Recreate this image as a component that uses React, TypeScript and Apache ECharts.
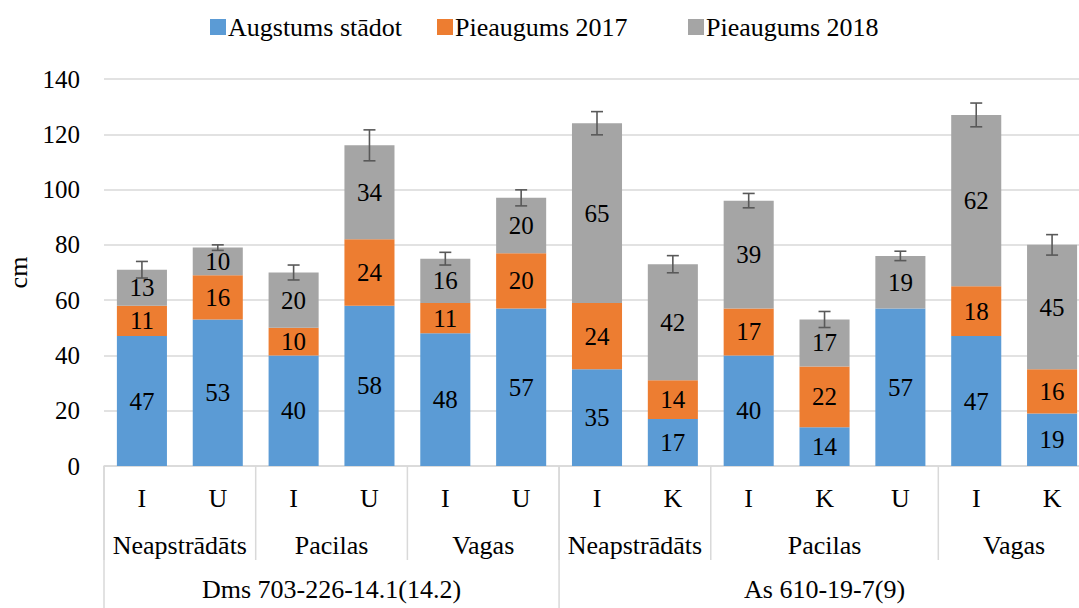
import React, { useEffect, useRef } from "react";
import * as echarts from "echarts";

const categories = ["I", "U", "I", "U", "I", "U", "I", "K", "I", "K", "U", "I", "K"];
const augstumsStadot = [47, 53, 40, 58, 48, 57, 35, 17, 40, 14, 57, 47, 19];
const pieaugums2017: (number | null)[] = [11, 16, 10, 24, 11, 20, 24, 14, 17, 22, null, 18, 16];
const pieaugums2018 = [13, 10, 20, 34, 16, 20, 65, 42, 39, 17, 19, 62, 45];
const errorValues = [3, 1, 2.7, 5.6, 2.3, 2.9, 4.2, 3.1, 2.6, 2.9, 1.7, 4.3, 3.7];
const level2Groups = [
  { name: "Neapstrādāts", start: 0, end: 1 },
  { name: "Pacilas", start: 2, end: 3 },
  { name: "Vagas", start: 4, end: 5 },
  { name: "Neapstrādāts", start: 6, end: 7 },
  { name: "Pacilas", start: 8, end: 10 },
  { name: "Vagas", start: 11, end: 12 },
];
const level3Groups = [
  { name: "Dms 703-226-14.1(14.2)", start: 0, end: 5 },
  { name: "As 610-19-7(9)", start: 6, end: 12 },
];
const seriesNames = ["Augstums stādot", "Pieaugums 2017", "Pieaugums 2018"];
const yTicks = { min: 0, max: 140, interval: 20 };

const FONT = "Liberation Serif";
const FS = 25;
const FS_TEXT = 26;
const COLORS = ["#5b9bd5", "#ed7d31", "#a5a5a5"];
const LEGEND_LEFT = [205, 432, 683];

export default function App() {
  const ref = useRef<HTMLDivElement>(null);
  useEffect(() => {
    if (!ref.current) return;
    const chart = echarts.init(ref.current, undefined, { renderer: "svg" });
    const totals = categories.map(
      (_, i) => augstumsStadot[i] + (pieaugums2017[i] ?? 0) + pieaugums2018[i]
    );
    const labelStyle = {
      show: true,
      position: "inside" as const,
      color: "#000",
      fontFamily: FONT,
      fontSize: FS,
      formatter: (p: any) => (p.value == null ? "" : String(p.value)),
    };
    const groupItems = [
      ...level2Groups.map((g) => ({ ...g, level: 2 })),
      ...level3Groups.map((g) => ({ ...g, level: 3 })),
    ];
    const seriesData = [augstumsStadot, pieaugums2017, pieaugums2018];
    chart.setOption({
      animation: false,
      textStyle: { fontFamily: FONT },
      legend: seriesNames.map((n, i) => ({
        top: 9,
        left: LEGEND_LEFT[i],
        itemWidth: 16,
        itemHeight: 16,
        icon: "rect",
        selectedMode: false,
        textStyle: { fontFamily: FONT, fontSize: FS_TEXT, color: "#000", padding: [0, 0, 0, -3] },
        data: [n],
      })),
      grid: {
        left: 104,
        right: -11,
        top: 79,
        bottom: 142,
        containLabel: false,
        outerBoundsMode: "none",
      },
      xAxis: {
        type: "category",
        data: categories,
        axisLine: { show: true, lineStyle: { color: "#d9d9d9", width: 1.5 } },
        axisTick: { show: false },
        axisLabel: { fontFamily: FONT, fontSize: FS_TEXT, color: "#000", margin: 19 },
      },
      yAxis: {
        type: "value",
        min: yTicks.min,
        max: yTicks.max,
        interval: yTicks.interval,
        name: "cm",
        nameLocation: "middle",
        nameGap: 71,
        nameRotate: 90,
        nameTextStyle: { fontFamily: FONT, fontSize: FS_TEXT, color: "#000" },
        axisLine: { show: false },
        axisTick: { show: false },
        axisLabel: { fontFamily: FONT, fontSize: FS, color: "#000", margin: 24 },
        splitLine: { lineStyle: { color: "#d9d9d9", width: 1.5 } },
      },
      series: [
        ...seriesNames.map((n, i) => ({
          name: n,
          type: "bar",
          stack: "total",
          barWidth: "66%",
          itemStyle: { color: COLORS[i] },
          label: labelStyle,
          data: seriesData[i],
        })),
        {
          type: "custom",
          name: "errors",
          z: 10,
          encode: { x: 0, y: 1 },
          data: totals.map((t, i) => [i, t, errorValues[i]]),
          renderItem: (params: any, api: any) => {
            const idx = api.value(0);
            const t = api.value(1);
            const e = api.value(2);
            const top = api.coord([idx, t + e]);
            const bot = api.coord([idx, t - e]);
            const hw = 6;
            const style = { stroke: "#595959", lineWidth: 1.6 };
            return {
              type: "group",
              children: [
                { type: "line", shape: { x1: top[0], y1: top[1], x2: bot[0], y2: bot[1] }, style },
                { type: "line", shape: { x1: top[0] - hw, y1: top[1], x2: top[0] + hw, y2: top[1] }, style },
                { type: "line", shape: { x1: bot[0] - hw, y1: bot[1], x2: bot[0] + hw, y2: bot[1] }, style },
              ],
            };
          },
        },
        {
          type: "custom",
          name: "groups",
          silent: true,
          clip: false,
          encode: { x: 0, y: 1 },
          data: groupItems.map((g) => [g.start, 0, g.end, g.level]),
          renderItem: (params: any, api: any) => {
            const g = groupItems[params.dataIndex];
            const band = api.size([1, 0])[0];
            const s = api.coord([g.start, 0]);
            const e = api.coord([g.end, 0]);
            const left = s[0] - band / 2;
            const right = e[0] + band / 2;
            const base = s[1];
            const lineLen = g.level === 2 ? 94 : 142;
            const ty = g.level === 2 ? base + 79 : base + 123;
            const lineStyle = { stroke: "#d9d9d9", lineWidth: 1.5 };
            const children: any[] = [
              { type: "line", shape: { x1: left, y1: base, x2: left, y2: base + lineLen }, style: lineStyle },
              {
                type: "text",
                style: {
                  text: g.name,
                  x: (left + right) / 2,
                  y: ty,
                  align: "center",
                  verticalAlign: "middle",
                  fontFamily: FONT,
                  fontSize: FS_TEXT,
                  fill: "#000",
                },
              },
            ];
            if (g.end === categories.length - 1) {
              children.push({ type: "line", shape: { x1: right, y1: base, x2: right, y2: base + lineLen }, style: lineStyle });
            }
            return { type: "group", children };
          },
        },
      ],
    });
    return () => chart.dispose();
  }, []);
  return (
    <div
      ref={ref}
      style={{ position: "absolute", left: 0, top: 0, width: 1079, height: 608 }}
    />
  );
}
